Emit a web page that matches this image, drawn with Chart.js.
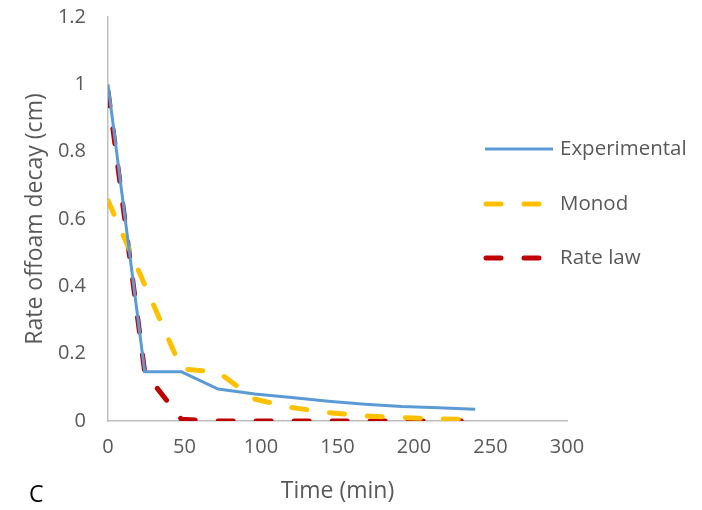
<!DOCTYPE html>
<html>
<head>
<meta charset="utf-8">
<script src="https://cdn.jsdelivr.net/npm/chart.js@4"></script>
<style>
  body { margin: 0; background: #fff; }
  #wrap { width: 702px; height: 510px; position: relative; }
</style>
</head>
<body>
<div id="wrap"><canvas id="decayChart" width="702" height="510"></canvas></div>
<script>
// time points (min)
const times = [0, 24, 48, 72, 96, 120, 144, 168, 192, 216, 240];
// series values
const experimental = [1.0, 0.146, 0.146, 0.095, 0.080, 0.070, 0.059, 0.050, 0.043, 0.039, 0.035];
const monod = [0.655, 0.405, 0.155, 0.145, 0.065, 0.040, 0.025, 0.015, 0.010, 0.006, 0.005];
const rateLaw = [0.98, 0.145, 0.005, 0, 0, 0, 0, 0, 0, 0, 0];

const xTicks = [0, 50, 100, 150, 200, 250, 300];
const yTicks = [0, 0.2, 0.4, 0.6, 0.8, 1, 1.2];

const FONT = '"Open Sans", sans-serif';
const GREY = '#595959';

function toPoints(values) {
    return times.map((t, i) => ({ x: t, y: values[i] }));
}

// legend drawn at the right, like the original
const sideLegend = {
    id: 'sideLegend',
    afterDraw(chart) {
        const ctx = chart.ctx;
        const rows = [149, 204, 258];
        ctx.save();
        chart.data.datasets.forEach((ds, i) => {
            const y = rows[i];
            ctx.strokeStyle = ds.borderColor;
            ctx.lineWidth = ds.borderWidth;
            ctx.lineCap = ds.borderCapStyle || 'butt';
            ctx.setLineDash(ds.borderDash || []);
            ctx.beginPath();
            if (ds.borderDash) {
                ctx.moveTo(486, y);
                ctx.lineTo(552, y);
            } else {
                ctx.moveTo(485, y);
                ctx.lineTo(553, y);
            }
            ctx.stroke();
            ctx.setLineDash([]);
            ctx.fillStyle = GREY;
            ctx.font = '20.5px ' + FONT;
            ctx.textBaseline = 'middle';
            ctx.textAlign = 'left';
            ctx.fillText(ds.label, 560, y);
        });
        // panel letter
        ctx.fillStyle = '#000';
        ctx.font = '23px ' + FONT;
        ctx.textBaseline = 'middle';
        ctx.fillText('C', 29, 495);
        ctx.restore();
    }
};

const ctx = document.getElementById('decayChart').getContext('2d');
new Chart(ctx, {
    type: 'line',
    data: {
        datasets: [{
            label: 'Experimental',
            data: toPoints(experimental),
            borderColor: '#5b9bd5',
            borderWidth: 3,
            pointRadius: 0,
            tension: 0
        }, {
            label: 'Monod',
            data: toPoints(monod),
            borderColor: '#ffc000',
            borderWidth: 5,
            borderDash: [15, 23],
            borderCapStyle: 'round',
            pointRadius: 0,
            tension: 0
        }, {
            label: 'Rate law',
            data: toPoints(rateLaw),
            borderColor: '#c00000',
            borderWidth: 5,
            borderDash: [15, 23],
            borderCapStyle: 'round',
            pointRadius: 0,
            tension: 0
        }]
    },
    options: {
        responsive: false,
        animation: false,
        layout: { padding: { top: 17, right: 135, left: 0, bottom: 0 } },
        plugins: {
            legend: { display: false },
            tooltip: { enabled: false }
        },
        scales: {
            x: {
                type: 'linear',
                min: 0,
                max: 300,
                afterBuildTicks: axis => { axis.ticks = xTicks.map(v => ({ value: v })); },
                grid: { display: false },
                border: { display: true, color: '#bfbfbf', width: 1.5 },
                ticks: { color: GREY, font: { family: FONT, size: 20 }, padding: 6, maxRotation: 0 },
                title: {
                    display: true, text: 'Time (min)', color: GREY,
                    font: { family: FONT, size: 23 }, padding: { top: 0, bottom: 5 }
                },
                afterFit: axis => {
                    axis.height = 89;
                    axis.paddingLeft = 0;
                    axis.paddingRight = 0;
                }
            },
            y: {
                min: 0,
                max: 1.2,
                afterBuildTicks: axis => { axis.ticks = yTicks.map(v => ({ value: v })); },
                grid: { display: false },
                border: { display: true, color: '#bfbfbf', width: 1.5 },
                ticks: {
                    color: GREY, font: { family: FONT, size: 20 }, padding: 14,
                    callback: v => String(Number(v.toFixed(1)))
                },
                title: {
                    display: true, text: 'Rate offoam decay (cm)', color: GREY,
                    font: { family: FONT, size: 23 }, padding: { top: 22, bottom: 0 }
                },
                afterFit: axis => {
                    axis.width = 108;
                    axis.paddingTop = 0;
                    axis.paddingBottom = 0;
                }
            }
        }
    },
    plugins: [sideLegend]
});
</script>
</body>
</html>
